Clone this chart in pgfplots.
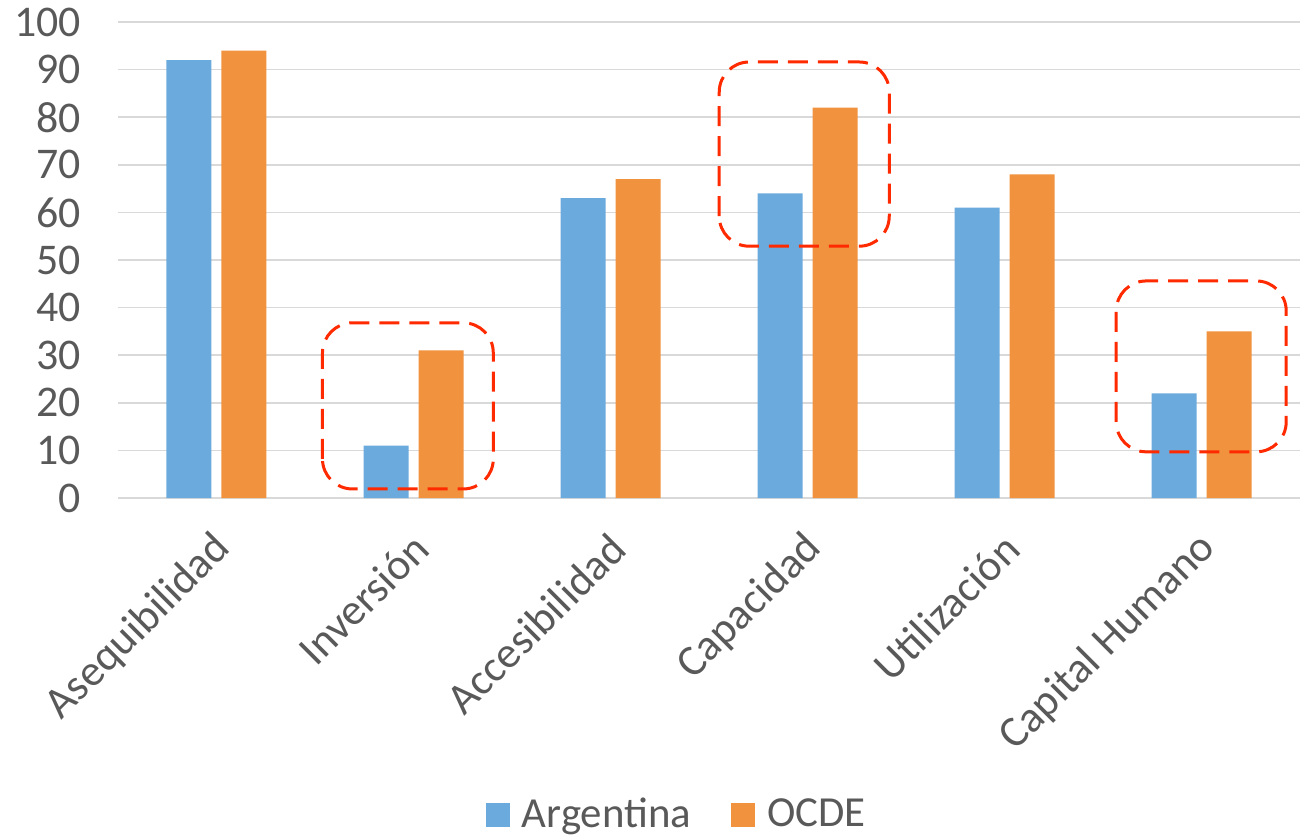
\documentclass[border=0pt]{standalone}
\usepackage{pgfplots}
\pgfplotsset{compat=1.18}
\usepackage{fontspec}
\setmainfont{Carlito}
\definecolor{argblue}{HTML}{6BAADC}
\definecolor{ocdeorange}{HTML}{F0923E}
\definecolor{txtgray}{HTML}{595959}
\definecolor{gridgray}{HTML}{D9D9D9}
\definecolor{boxred}{HTML}{FF2A00}
\begin{document}
\begin{tikzpicture}
\begin{axis}[
  at={(0,0)}, anchor=south west,
  scale only axis,
  width=591bp, height=238bp,
  xmin=-0.5, xmax=5.5,
  ymin=0, ymax=100,
  ybar, bar width=22.5bp,
  ytick={0,10,...,100},
  xtick=data,
  xticklabels={Asequibilidad,Inversión,Accesibilidad,Capacidad,Utilización,Capital Humano},
  axis line style={draw=none},
  major tick length=0pt,
  ymajorgrids, grid style={gridgray, line width=0.75bp},
  /pgf/number format/assume math mode=true,
  yticklabel style={font=\fontsize{22}{24}\selectfont, text=txtgray, xshift=-15bp},
  xticklabel style={font=\fontsize{22}{24}\selectfont, text=txtgray, xshift=6.2bp, yshift=-19.4bp, rotate=45, anchor=east},
  legend style={at={(0.4735,-0.665)}, anchor=center, draw=none, fill=none,
    legend columns=2, font=\fontsize{21.5}{23}\selectfont, text=txtgray,
    /tikz/every even column/.append style={column sep=18bp}},
  legend image code/.code={\fill[#1] (0bp,-6bp) rectangle (12bp,6bp); \path (16bp,0bp);},
]
\addplot[draw=none, fill=argblue, bar shift=-13.75bp] coordinates {(0,92) (1,11) (2,63) (3,64) (4,61) (5,22)};
\addplot[draw=none, fill=ocdeorange, bar shift=13.75bp] coordinates {(0,94) (1,31) (2,67) (3,82) (4,68) (5,35)};
\legend{Argentina, OCDE}
\draw[boxred, line width=1.5bp, dash pattern=on 10bp off 5bp, rounded corners=15bp]
  (axis cs:0.538,1.9) rectangle (axis cs:1.405,36.8);
\draw[boxred, line width=1.5bp, dash pattern=on 10bp off 5bp, rounded corners=15bp]
  (axis cs:2.552,52.9) rectangle (axis cs:3.415,91.6);
\draw[boxred, line width=1.5bp, dash pattern=on 10bp off 5bp, rounded corners=15bp]
  (axis cs:4.567,9.7) rectangle (axis cs:5.430,45.6);
\end{axis}
\pgfresetboundingbox
\path[use as bounding box] (-59bp,-169bp) rectangle (593bp,249bp);
\end{tikzpicture}
\end{document}
